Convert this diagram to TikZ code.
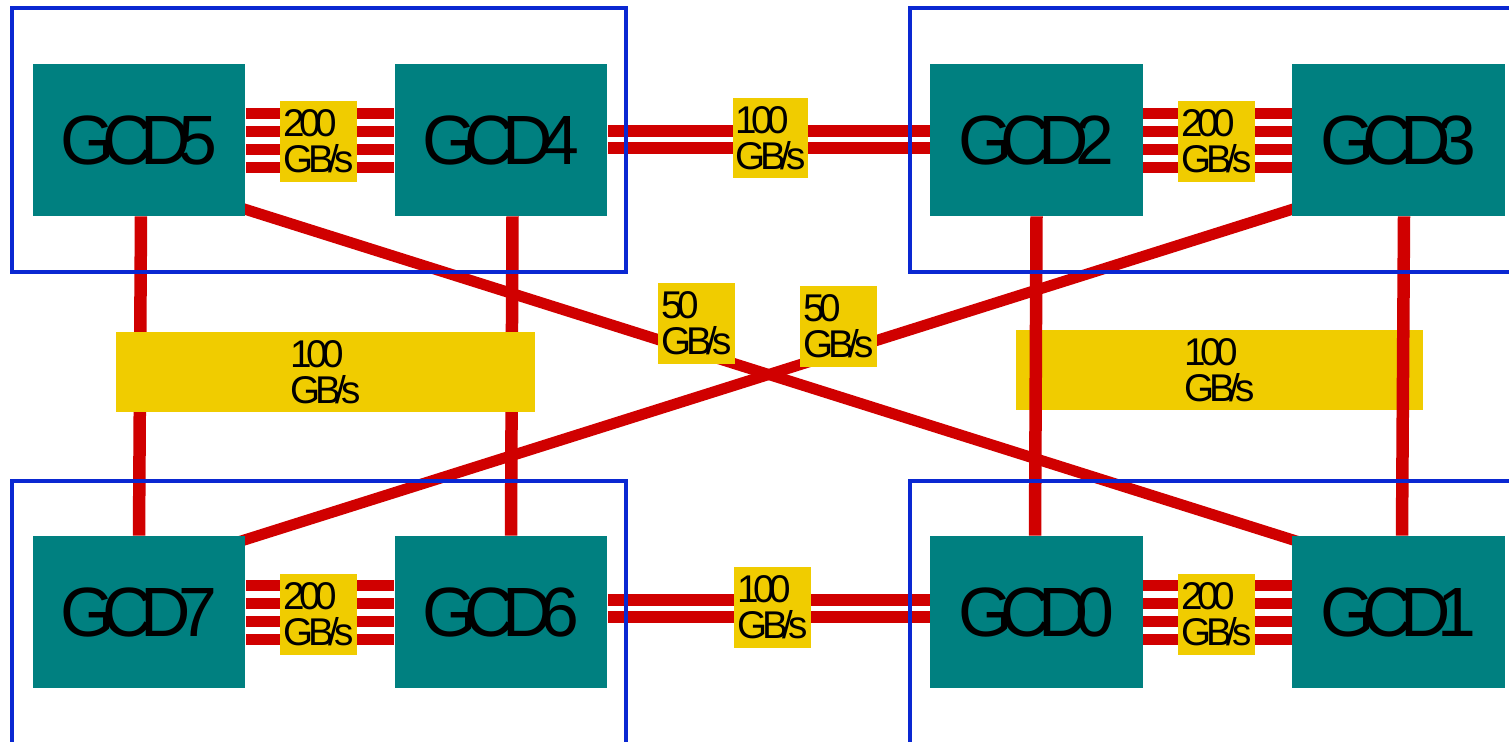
\documentclass[tikz,border=0pt]{standalone}
\usepackage{fontspec}
\setmainfont{Liberation Sans}
\newfontfamily\tightfont{Liberation Sans}[LetterSpace=-18]
\newfontfamily\bwfont{Liberation Sans}[LetterSpace=-14]
\usetikzlibrary{calc}
\pgfdeclarelayer{back}
\pgfsetlayers{back,main}
\definecolor{gcdteal}{HTML}{008080}
\definecolor{bwyellow}{HTML}{F0CC00}
\definecolor{linkred}{HTML}{D00000}
\definecolor{groupblue}{HTML}{0A28D2}

\begin{document}
\begin{tikzpicture}[
    x=0.02cm,
    y=-0.02cm,
    gcd/.style={
        rectangle,
        fill=gcdteal,
        inner sep=0pt,
        minimum width=4.26cm,
        minimum height=3.04cm,
        font=\tightfont\fontsize{39.7}{44}\selectfont
    },
    bw/.style={
        rectangle,
        fill=bwyellow,
        inner sep=0pt,
        align=left,
        minimum width=1.54cm,
        minimum height=1.62cm,
        font=\bwfont\fontsize{22}{20.4}\selectfont
    },
    wide/.style={bw, minimum height=1.6cm},
    link/.style={draw=linkred, line width=0.22cm},
    post/.style={draw=linkred, line width=0.25cm},
    group/.style={draw=groupblue, line width=0.08cm}
]
\useasboundingbox (0,0) rectangle (1509,741);

% dies
\node[gcd] (g5) at (139,140) {GCD5};
\node[gcd] (g4) at (501,140) {GCD4};
\node[gcd] (g2) at (1036.5,140) {GCD2};
\node[gcd] (g3) at (1398.5,140) {GCD3};
\node[gcd] (g7) at (139,612) {GCD7};
\node[gcd] (g6) at (501,612) {GCD6};
\node[gcd] (g0) at (1036.5,612) {GCD0};
\node[gcd] (g1) at (1398.5,612) {GCD1};

\begin{pgfonlayer}{back}
    % 200 GB/s links
    \foreach \a/\b in {g5/g4,g2/g3,g7/g6,g0/g1}{
        \foreach \d in {-27,-9,9,27}{
            \draw[link] ($(\a.east)+(0,\d)$) -- ($(\b.west)+(0,\d)$);
        }
    }
    % 100 GB/s links
    \foreach \d in {-9,8}{
        \draw[link, line width=0.23cm] ($(g4.east)+(0,\d)$) -- ($(g2.west)+(0,\d)$);
    }
    \foreach \d in {-12,5}{
        \draw[link, line width=0.23cm] ($(g6.east)+(0,\d)$) -- ($(g0.west)+(0,\d)$);
    }
    \draw[post] ($(g5.south)+(2,0)$) -- (g7.north);
    \draw[post] ($(g4.south)+(11.5,0)$) -- ($(g6.north)+(10,0)$);
    % 50 GB/s links
    \draw[link] ($(g5.south east)+(-10,-10)$) -- ($(g1.north west)+(10,7)$);
    \draw[link] ($(g3.south west)+(10,-10)$) -- ($(g7.north east)+(-10,7)$);
    \node[wide, minimum width=8.14cm] (b20) at (1219.5,370) {100\\GB/s};
    \draw[post] (g2.south) -- ($(g0.north)+(-1.5,0)$);
    \draw[post] ($(g3.south)+(5.5,0)$) -- ($(g1.north)+(3.5,0)$);
\end{pgfonlayer}

% bandwidth labels
\node[wide, minimum width=8.38cm] (b57) at (325.5,372) {100\\GB/s};
\node[bw] (b54) at (318.5,141.5) {200\\GB/s};
\node[bw] (b23) at (1216.5,141.5) {200\\GB/s};
\node[bw] (b76) at (318.5,614.5) {200\\GB/s};
\node[bw] (b01) at (1216.5,614.5) {200\\GB/s};
\node[bw, minimum width=1.5cm, minimum height=1.6cm] (b42) at (770.5,138) {100\\GB/s};
\node[bw, minimum height=1.62cm] (b60) at (772.5,607.5) {100\\GB/s};
\node[bw] (b51) at (696.5,323.5) {50\\GB/s};
\node[bw] (b37) at (838.5,326.5) {50\\GB/s};

% groups
\draw[group] (12,8) rectangle (626,272);
\draw[group] (910,8) rectangle (1520,272);
\draw[group] (12,481) rectangle (626,760);
\draw[group] (910,481) rectangle (1520,760);

\end{tikzpicture}
\end{document}
